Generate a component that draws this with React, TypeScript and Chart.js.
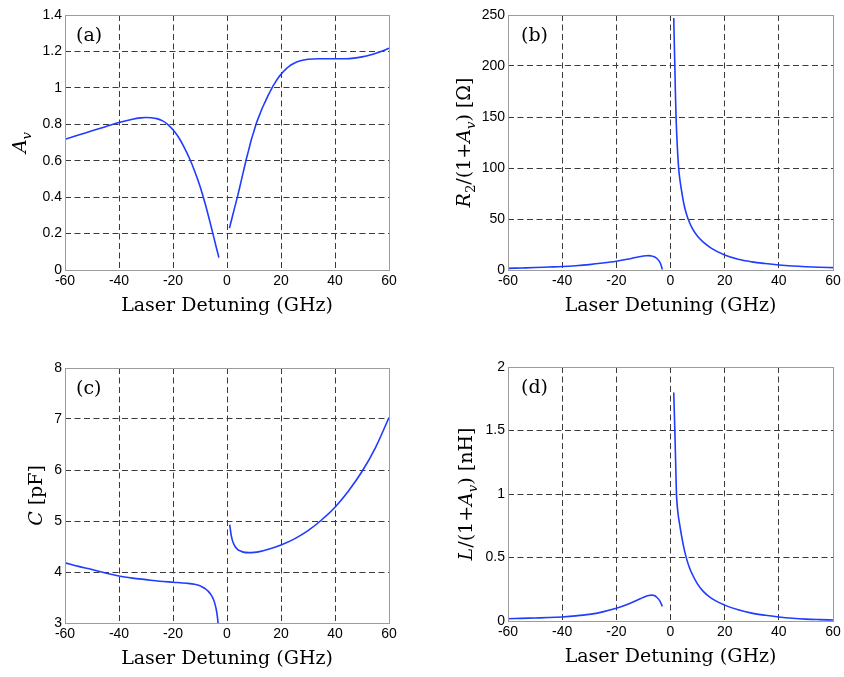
import React, { useEffect, useRef } from 'react';
import { Chart, registerables } from 'chart.js';

Chart.register(...registerables);

// ---------- data ----------
const X_TICKS = [-60, -40, -20, 0, 20, 40, 60];
const A_TICKS = [0, 0.2, 0.4, 0.6, 0.8, 1, 1.2, 1.4];
const B_TICKS = [0, 50, 100, 150, 200, 250];
const C_TICKS = [3, 4, 5, 6, 7, 8];
const D_TICKS = [0, 0.5, 1, 1.5, 2];

const A_LEFT_X = [-60, -55, -50, -45, -40, -35, -32, -30, -28, -26, -24, -22, -20, -18, -16, -14, -12, -10, -8, -6, -4, -3];
const A_LEFT_Y = [0.718, 0.741, 0.764, 0.787, 0.81, 0.828, 0.835, 0.837, 0.836, 0.831, 0.82, 0.8, 0.77, 0.73, 0.678, 0.616, 0.544, 0.46, 0.36, 0.246, 0.126, 0.068];
const A_RIGHT_X = [0.9, 2, 3, 4, 5, 6, 7, 8, 9, 10, 11, 12, 13, 14, 15, 16, 17, 18, 19, 20, 21, 22, 23, 24, 26, 28, 30, 34, 40, 44, 47, 50, 53, 56, 58, 60];
const A_RIGHT_Y = [0.23, 0.294, 0.352, 0.41, 0.473, 0.536, 0.599, 0.657, 0.715, 0.763, 0.811, 0.849, 0.887, 0.919, 0.951, 0.98, 1.009, 1.033, 1.055, 1.074, 1.091, 1.106, 1.118, 1.128, 1.143, 1.152, 1.157, 1.16, 1.16, 1.16, 1.163, 1.17, 1.18, 1.194, 1.205, 1.218];

const B_LEFT_X = [-60, -55, -50, -45, -40, -35, -30, -25, -20, -16, -13, -11, -9, -8, -7, -6, -5, -4, -3.5, -3];
const B_LEFT_Y = [1.6, 2.0, 2.4, 2.9, 3.4, 4.2, 5.3, 6.8, 8.6, 10.5, 12.2, 13.3, 14.0, 14.1, 13.8, 13.0, 11.3, 8.0, 5.0, 0.5];
const B_RIGHT_X = [1.2, 1.4, 1.6, 1.8, 2.05, 2.5, 3, 3.5, 4, 5, 6, 6.5, 8, 10, 12, 15, 20, 25, 30, 35, 40, 45, 50, 55, 60];
const B_RIGHT_Y = [247, 222, 200, 175, 150, 122, 100, 88, 79, 64, 54, 50, 41, 33, 27.5, 21.5, 14.7, 10.5, 8, 6.3, 4.9, 3.9, 3.2, 2.7, 2.3];

const C_LEFT_X = [-60, -55, -50, -45, -40, -35, -30, -25, -20, -15, -12, -10, -9, -8, -7, -6, -5, -4.5, -4, -3.6, -3.3];
const C_LEFT_Y = [4.18, 4.11, 4.05, 3.98, 3.92, 3.88, 3.85, 3.82, 3.8, 3.78, 3.76, 3.73, 3.7, 3.67, 3.625, 3.56, 3.46, 3.38, 3.27, 3.14, 3.0];
const C_RIGHT_X = [1.0, 1.5, 2, 2.5, 3, 4, 5, 6, 8, 10, 12, 15, 20, 25, 30, 35, 40, 45, 50, 55, 60];
const C_RIGHT_Y = [4.93, 4.74, 4.62, 4.55, 4.5, 4.44, 4.41, 4.39, 4.38, 4.385, 4.4, 4.44, 4.53, 4.65, 4.81, 5.02, 5.27, 5.59, 5.97, 6.44, 7.03];

const D_LEFT_X = [-60, -55, -50, -45, -40, -35, -30, -25, -20, -16, -13, -11, -9, -8, -7, -6, -5, -4, -3];
const D_LEFT_Y = [0.018, 0.021, 0.024, 0.027, 0.032, 0.04, 0.052, 0.072, 0.1, 0.13, 0.157, 0.177, 0.195, 0.201, 0.204, 0.2, 0.185, 0.16, 0.115];
const D_RIGHT_X = [1.2, 1.4, 1.6, 1.9, 2.2, 2.4, 2.7, 3, 3.5, 4, 5, 6, 7, 8, 10, 12, 15, 20, 25, 30, 35, 40, 45, 50, 55, 60];
const D_RIGHT_Y = [1.8, 1.65, 1.5, 1.25, 1.0, 0.93, 0.86, 0.81, 0.745, 0.68, 0.57, 0.485, 0.42, 0.37, 0.29, 0.235, 0.18, 0.125, 0.088, 0.062, 0.045, 0.032, 0.022, 0.015, 0.011, 0.008];

const X_TITLE = 'Laser Detuning (GHz)';

type Seg = { t: string; italic?: boolean; sub?: boolean };

const A_YTITLE: Seg[] = [{ t: 'A', italic: true }, { t: 'v', italic: true, sub: true }];
const B_YTITLE: Seg[] = [
  { t: 'R', italic: true }, { t: '2', sub: true }, { t: '/(1+' },
  { t: 'A', italic: true }, { t: 'v', italic: true, sub: true }, { t: ') [Ω]' },
];
const C_YTITLE: Seg[] = [{ t: 'C', italic: true }, { t: ' [pF]' }];
const D_YTITLE: Seg[] = [
  { t: 'L', italic: true }, { t: '/(1+' },
  { t: 'A', italic: true }, { t: 'v', italic: true, sub: true }, { t: ') [nH]' },
];

// ---------- styling ----------
const BLUE = '#1f3cff';
const SERIF = "'DejaVu Serif', 'Liberation Serif', serif";
const SANS = "'Liberation Sans', Arial, sans-serif";
const TITLE_SIZE = 19;

type Panel = {
  key: string;
  label: string;
  left: number; top: number; w: number; h: number;
  padTop: number; padRight: number; yW: number; xH: number;
  yMin: number; yMax: number; yTicks: number[];
  series: { x: number[]; y: number[] }[];
  yTitle: Seg[]; yTitleX: number; labelDx: number;
};

const PANELS: Panel[] = [
  {
    key: 'a', label: '(a)', left: 0, top: 0, w: 422, h: 330,
    padTop: 15, padRight: 33, yW: 65, xH: 60,
    yMin: 0, yMax: 1.4, yTicks: A_TICKS,
    series: [{ x: A_LEFT_X, y: A_LEFT_Y }, { x: A_RIGHT_X, y: A_RIGHT_Y }],
    yTitle: A_YTITLE, yTitleX: 26, labelDx: 11,
  },
  {
    key: 'b', label: '(b)', left: 422, top: 0, w: 422, h: 330,
    padTop: 15, padRight: 11, yW: 86, xH: 60,
    yMin: 0, yMax: 250, yTicks: B_TICKS,
    series: [{ x: B_LEFT_X, y: B_LEFT_Y }, { x: B_RIGHT_X, y: B_RIGHT_Y }],
    yTitle: B_YTITLE, yTitleX: 48, labelDx: 13,
  },
  {
    key: 'c', label: '(c)', left: 0, top: 330, w: 422, h: 347,
    padTop: 38, padRight: 33, yW: 65, xH: 54,
    yMin: 3, yMax: 8, yTicks: C_TICKS,
    series: [{ x: C_LEFT_X, y: C_LEFT_Y }, { x: C_RIGHT_X, y: C_RIGHT_Y }],
    yTitle: C_YTITLE, yTitleX: 42, labelDx: 11,
  },
  {
    key: 'd', label: '(d)', left: 422, top: 330, w: 422, h: 347,
    padTop: 37, padRight: 11, yW: 86, xH: 56,
    yMin: 0, yMax: 2, yTicks: D_TICKS,
    series: [{ x: D_LEFT_X, y: D_LEFT_Y }, { x: D_RIGHT_X, y: D_RIGHT_Y }],
    yTitle: D_YTITLE, yTitleX: 50, labelDx: 13,
  },
];

function drawRich(ctx: CanvasRenderingContext2D, segs: Seg[], size: number) {
  let total = 0;
  const items = segs.map((s) => {
    const fs = s.sub ? size * 0.7 : size;
    const font = `${s.italic ? 'italic ' : ''}${fs}px ${SERIF}`;
    ctx.font = font;
    const w = ctx.measureText(s.t).width;
    total += w;
    return { ...s, font, w };
  });
  let x = -total / 2;
  for (const it of items) {
    ctx.font = it.font;
    ctx.fillText(it.t, x, it.sub ? size * 0.28 : 0);
    x += it.w;
  }
}

function framePlugin(p: Panel) {
  return {
    id: 'frame_' + p.key,
    afterDraw(chart: any) {
      const { ctx, chartArea: a } = chart;
      ctx.save();
      // box
      ctx.strokeStyle = '#9c9c9c';
      ctx.lineWidth = 1;
      ctx.setLineDash([]);
      ctx.strokeRect(Math.round(a.left) + 0.5, Math.round(a.top) + 0.5, Math.round(a.right - a.left), Math.round(a.bottom - a.top));
      ctx.fillStyle = '#000';
      // panel label
      ctx.font = `${TITLE_SIZE}px ${SERIF}`;
      ctx.textAlign = 'left';
      ctx.textBaseline = 'middle';
      ctx.fillText(p.label, a.left + p.labelDx, a.top + 21);
      // x title
      ctx.textAlign = 'center';
      ctx.textBaseline = 'alphabetic';
      ctx.fillText(X_TITLE, (a.left + a.right) / 2, a.bottom + 41);
      // y title
      ctx.translate(p.yTitleX, (a.top + a.bottom) / 2);
      ctx.rotate(-Math.PI / 2);
      ctx.textAlign = 'left';
      drawRich(ctx, p.yTitle, TITLE_SIZE);
      ctx.restore();
    },
  };
}

function makeConfig(p: Panel): any {
  const gridColor = (min: number, max: number) => (c: any) => {
    const v = c.tick ? c.tick.value : null;
    return v === min || v === max ? 'rgba(0,0,0,0)' : '#3a3a3a';
  };
  const tickFont = { family: SANS, size: 14 };
  return {
    type: 'line',
    data: {
      datasets: p.series.map((s) => ({
        data: s.x.map((x, i) => ({ x, y: s.y[i] })),
        borderColor: BLUE,
        borderWidth: 1.6,
        pointRadius: 0,
        fill: false,
        cubicInterpolationMode: 'monotone',
      })),
    },
    options: {
      animation: false,
      responsive: false,
      events: [],
      layout: { padding: { top: p.padTop, right: p.padRight, left: 0, bottom: 0 } },
      plugins: { legend: { display: false }, tooltip: { enabled: false }, title: { display: false } },
      scales: {
        x: {
          type: 'linear',
          min: -60,
          max: 60,
          afterBuildTicks: (s: any) => { s.ticks = X_TICKS.map((v) => ({ value: v })); },
          afterFit: (s: any) => { s.height = p.xH; },
          grid: { color: gridColor(-60, 60), lineWidth: 1, drawTicks: false },
          border: { display: false, dash: [6, 3.5] },
          ticks: { font: tickFont, color: '#000', padding: 3, maxRotation: 0, autoSkip: false, callback: (v: any) => String(v) },
        },
        y: {
          type: 'linear',
          min: p.yMin,
          max: p.yMax,
          afterBuildTicks: (s: any) => { s.ticks = p.yTicks.map((v) => ({ value: v })); },
          afterFit: (s: any) => { s.width = p.yW; },
          grid: { color: gridColor(p.yMin, p.yMax), lineWidth: 1, drawTicks: false },
          border: { display: false, dash: [6, 3.5] },
          ticks: { font: tickFont, color: '#000', padding: 3, autoSkip: false, callback: (v: any) => String(v) },
        },
      },
    },
    plugins: [framePlugin(p)],
  };
}

function PanelChart({ p }: { p: Panel }) {
  const ref = useRef<HTMLCanvasElement | null>(null);
  useEffect(() => {
    if (!ref.current) return;
    const chart = new Chart(ref.current, makeConfig(p));
    return () => chart.destroy();
  }, [p]);
  return (
    <div style={{ position: 'absolute', left: p.left, top: p.top, width: p.w, height: p.h }}>
      <canvas ref={ref} width={p.w} height={p.h} style={{ display: 'block', width: p.w, height: p.h }} />
    </div>
  );
}

export default function App() {
  return (
    <div style={{ position: 'absolute', left: 0, top: 0, width: 844, height: 677, background: '#fff', overflow: 'hidden' }}>
      {PANELS.map((p) => (
        <PanelChart key={p.key} p={p} />
      ))}
    </div>
  );
}
